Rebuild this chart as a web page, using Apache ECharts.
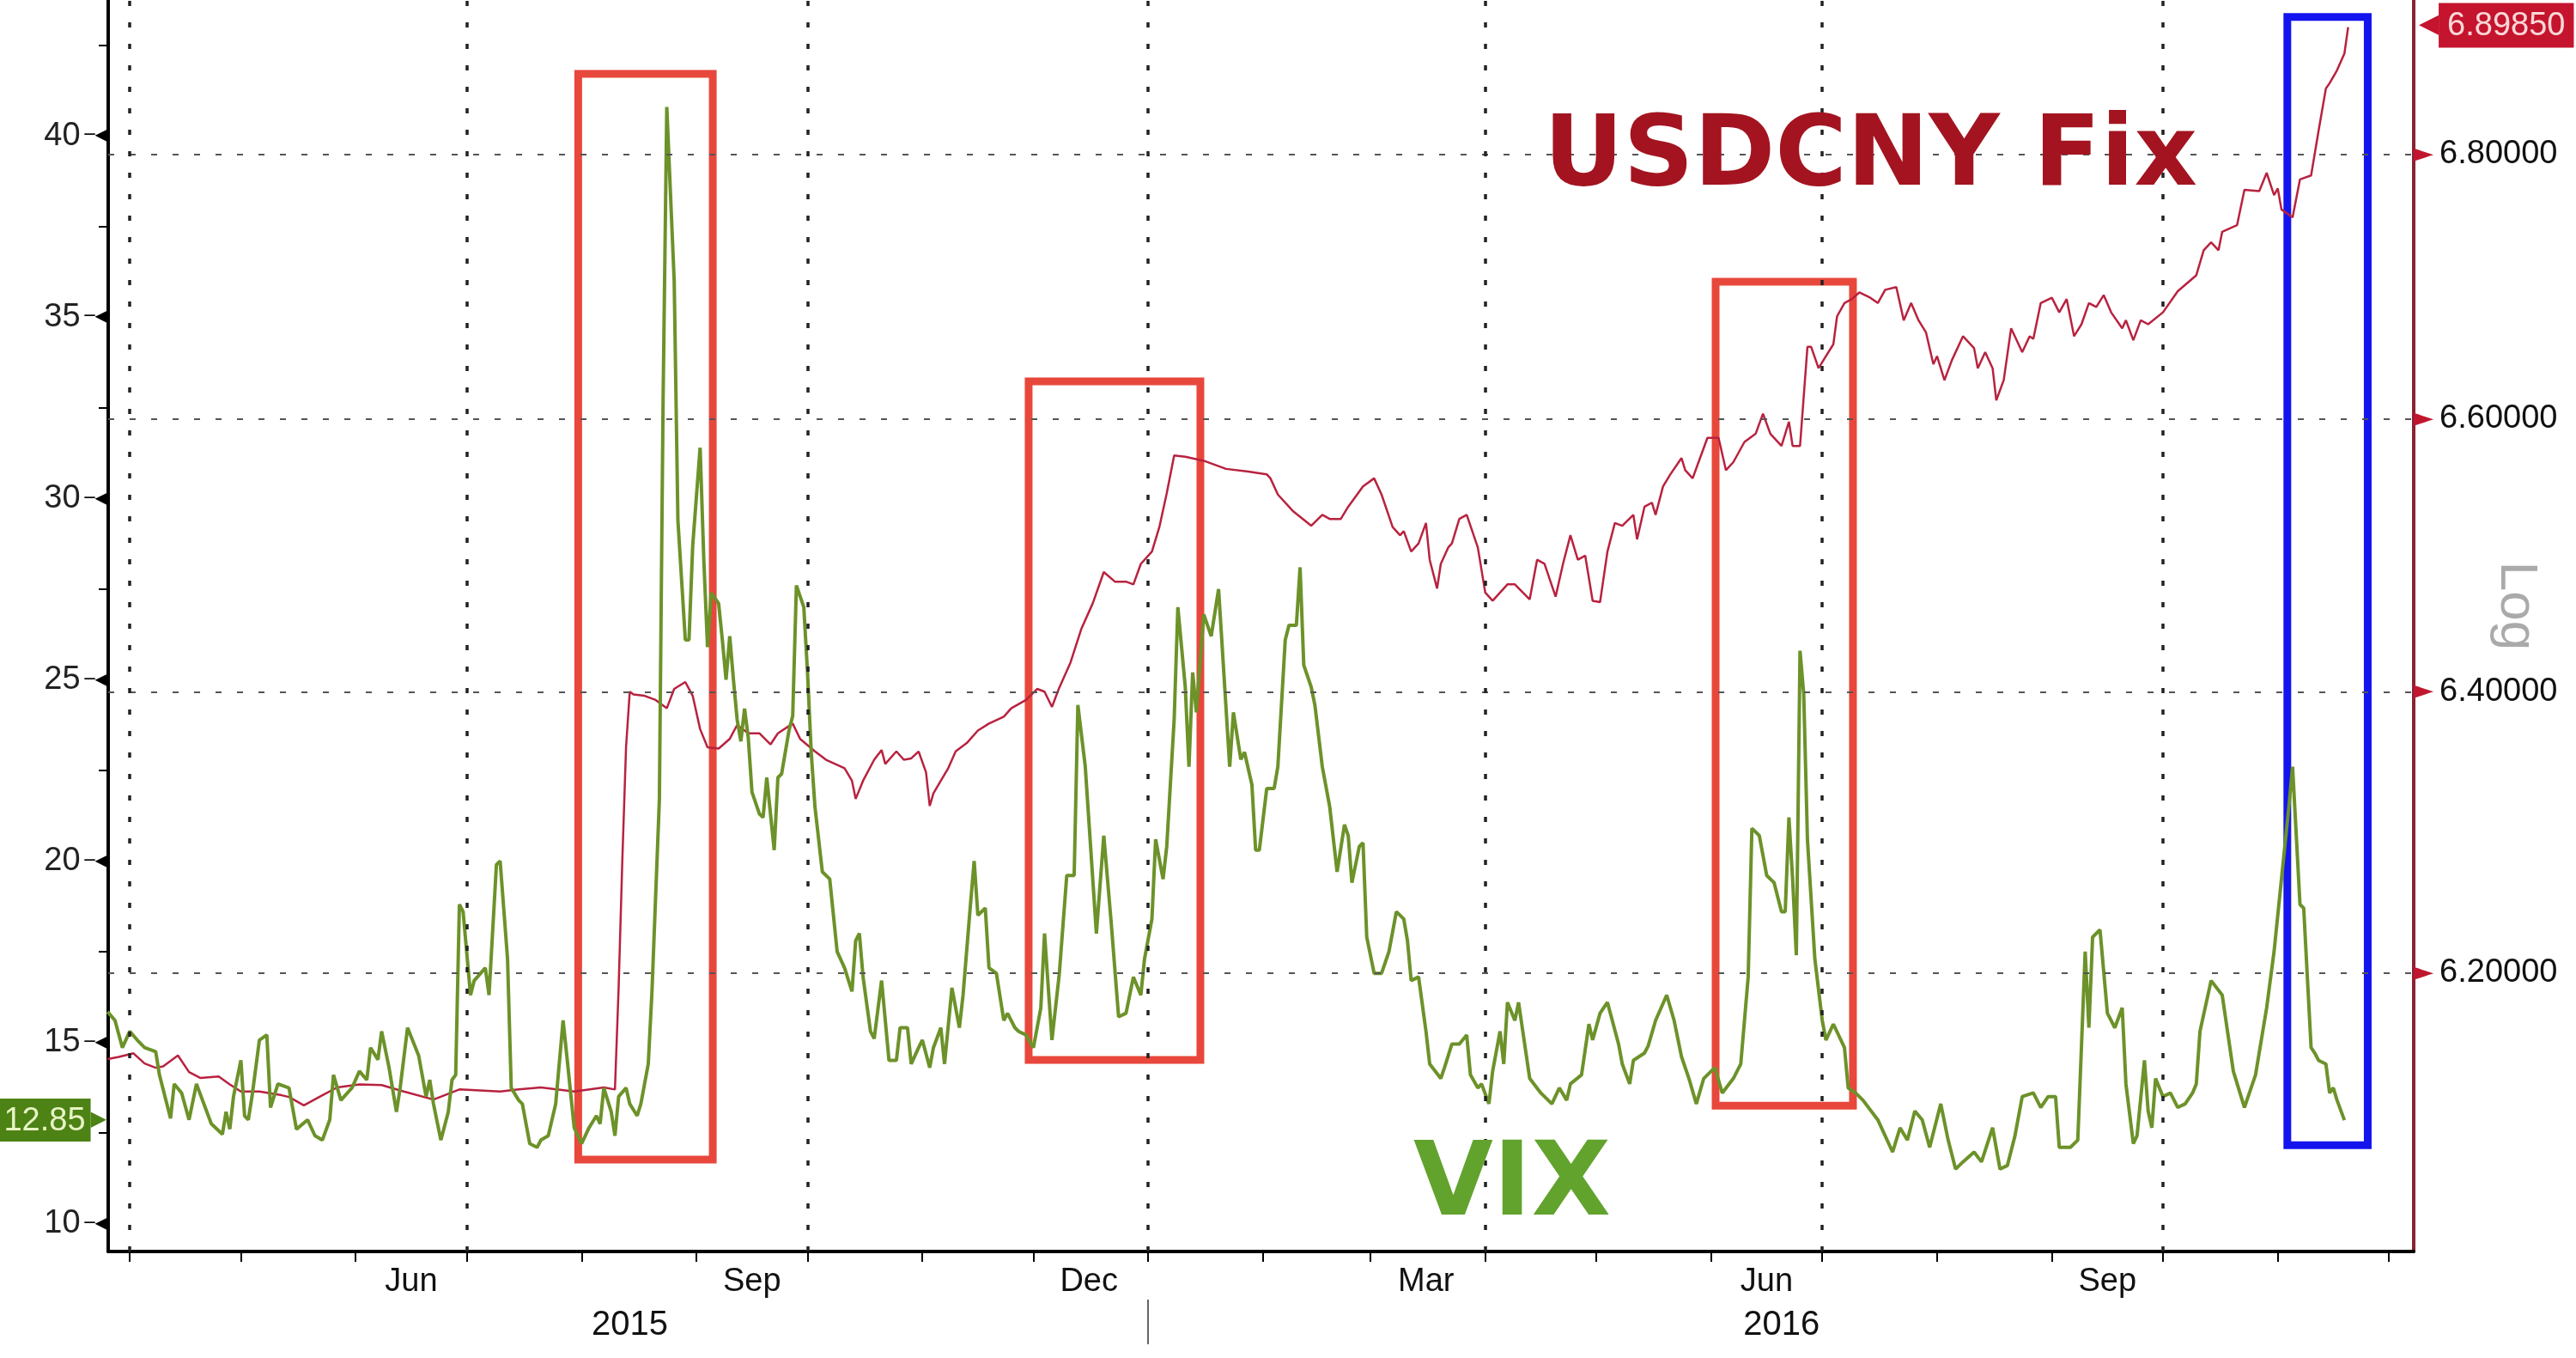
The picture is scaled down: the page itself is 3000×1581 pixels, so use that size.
<!DOCTYPE html>
<html><head><meta charset="utf-8">
<script src="https://cdn.jsdelivr.net/npm/echarts@6/dist/echarts.min.js"></script>
<style>html,body{margin:0;padding:0;background:#fff}#c{width:3000px;height:1581px}</style>
</head><body><div id="c"></div>
<script>
// ---------- data ----------
const vixDates = ['2015-03-26','2015-03-28','2015-03-30','2015-04-01','2015-04-03','2015-04-05','2015-04-08','2015-04-09','2015-04-12','2015-04-13','2015-04-15','2015-04-17','2015-04-19','2015-04-21','2015-04-23','2015-04-26','2015-04-27','2015-04-28','2015-04-29','2015-05-01','2015-05-02','2015-05-03','2015-05-04','2015-05-06','2015-05-08','2015-05-09','2015-05-11','2015-05-14','2015-05-16','2015-05-19','2015-05-21','2015-05-23','2015-05-25','2015-05-26','2015-05-28','2015-05-31','2015-06-02','2015-06-04','2015-06-05','2015-06-07','2015-06-08','2015-06-10','2015-06-12','2015-06-13','2015-06-15','2015-06-18','2015-06-20','2015-06-21','2015-06-22','2015-06-24','2015-06-26','2015-06-27','2015-06-28','2015-06-29','2015-06-30','2015-07-02','2015-07-03','2015-07-06','2015-07-07','2015-07-09','2015-07-10','2015-07-12','2015-07-13','2015-07-15','2015-07-16','2015-07-18','2015-07-20','2015-07-21','2015-07-23','2015-07-25','2015-07-27','2015-07-28','2015-07-30','2015-08-01','2015-08-03','2015-08-05','2015-08-06','2015-08-07','2015-08-09','2015-08-10','2015-08-11','2015-08-13','2015-08-14','2015-08-16','2015-08-17','2015-08-19','2015-08-20','2015-08-22','2015-08-23','2015-08-24','2015-08-26','2015-08-27','2015-08-29','2015-08-30','2015-08-31','2015-09-02','2015-09-03','2015-09-04','2015-09-05','2015-09-07','2015-09-08','2015-09-09','2015-09-10','2015-09-11','2015-09-12','2015-09-13','2015-09-14','2015-09-15','2015-09-16','2015-09-18','2015-09-19','2015-09-20','2015-09-22','2015-09-23','2015-09-24','2015-09-26','2015-09-27','2015-09-28','2015-09-30','2015-10-01','2015-10-02','2015-10-03','2015-10-05','2015-10-07','2015-10-09','2015-10-11','2015-10-13','2015-10-14','2015-10-15','2015-10-16','2015-10-18','2015-10-19','2015-10-21','2015-10-23','2015-10-25','2015-10-26','2015-10-28','2015-10-29','2015-10-31','2015-11-01','2015-11-03','2015-11-04','2015-11-06','2015-11-07','2015-11-09','2015-11-11','2015-11-12','2015-11-14','2015-11-15','2015-11-16','2015-11-18','2015-11-19','2015-11-21','2015-11-23','2015-11-24','2015-11-26','2015-11-27','2015-11-29','2015-12-01','2015-12-03','2015-12-04','2015-12-06','2015-12-08','2015-12-10','2015-12-12','2015-12-13','2015-12-15','2015-12-18','2015-12-20','2015-12-22','2015-12-24','2015-12-26','2015-12-28','2015-12-30','2015-12-31','2016-01-02','2016-01-03','2016-01-05','2016-01-06','2016-01-08','2016-01-09','2016-01-11','2016-01-12','2016-01-13','2016-01-14','2016-01-16','2016-01-18','2016-01-20','2016-01-23','2016-01-24','2016-01-26','2016-01-27','2016-01-29','2016-01-30','2016-01-31','2016-02-02','2016-02-04','2016-02-05','2016-02-07','2016-02-08','2016-02-10','2016-02-11','2016-02-12','2016-02-14','2016-02-15','2016-02-17','2016-02-19','2016-02-21','2016-02-23','2016-02-24','2016-02-25','2016-02-27','2016-02-28','2016-02-29','2016-03-02','2016-03-04','2016-03-06','2016-03-08','2016-03-10','2016-03-11','2016-03-12','2016-03-14','2016-03-16','2016-03-17','2016-03-20','2016-03-21','2016-03-23','2016-03-25','2016-03-27','2016-03-28','2016-03-30','2016-03-31','2016-04-02','2016-04-03','2016-04-05','2016-04-06','2016-04-07','2016-04-09','2016-04-10','2016-04-13','2016-04-16','2016-04-19','2016-04-21','2016-04-23','2016-04-24','2016-04-27','2016-04-29','2016-04-30','2016-05-02','2016-05-04','2016-05-07','2016-05-08','2016-05-10','2016-05-11','2016-05-14','2016-05-15','2016-05-17','2016-05-20','2016-05-22','2016-05-24','2016-05-26','2016-05-28','2016-05-30','2016-06-02','2016-06-04','2016-06-07','2016-06-09','2016-06-11','2016-06-12','2016-06-14','2016-06-16','2016-06-18','2016-06-20','2016-06-21','2016-06-22','2016-06-23','2016-06-24','2016-06-25','2016-06-26','2016-06-27','2016-06-29','2016-07-01','2016-07-02','2016-07-04','2016-07-07','2016-07-08','2016-07-10','2016-07-12','2016-07-16','2016-07-20','2016-07-22','2016-07-24','2016-07-26','2016-07-28','2016-07-30','2016-08-02','2016-08-04','2016-08-06','2016-08-08','2016-08-11','2016-08-13','2016-08-16','2016-08-18','2016-08-20','2016-08-22','2016-08-24','2016-08-27','2016-08-29','2016-08-31','2016-09-02','2016-09-03','2016-09-06','2016-09-08','2016-09-10','2016-09-11','2016-09-12','2016-09-14','2016-09-16','2016-09-18','2016-09-20','2016-09-21','2016-09-23','2016-09-24','2016-09-26','2016-09-27','2016-09-28','2016-09-29','2016-10-01','2016-10-03','2016-10-05','2016-10-07','2016-10-09','2016-10-10','2016-10-11','2016-10-14','2016-10-17','2016-10-20','2016-10-23','2016-10-26','2016-10-29','2016-10-31','2016-11-02','2016-11-04','2016-11-05','2016-11-07','2016-11-08','2016-11-10','2016-11-11','2016-11-12','2016-11-14','2016-11-15','2016-11-16','2016-11-17','2016-11-19'];
const vixValues = [15.84,15.6,14.85,15.3,15.06,14.85,14.74,14.1,12.9,13.85,13.6,12.86,13.85,13.3,12.75,12.46,13.08,12.6,13.5,14.5,12.97,12.86,13.5,15.06,15.2,13.2,13.85,13.74,12.6,12.86,12.42,12.3,12.86,14.1,13.4,13.74,14.2,13.96,14.85,14.52,15.3,14.3,13.08,13.74,15.4,14.63,13.5,13.96,13.3,12.3,13.08,13.96,14.1,18.8,18.6,16.3,16.7,17.05,16.3,19.9,20.0,17.3,13.74,13.4,13.3,12.2,12.1,12.3,12.42,13.3,15.6,14.63,12.64,12.2,12.64,12.97,12.75,13.74,13.08,12.42,13.5,13.74,13.3,12.97,13.3,14.4,16.4,21.7,32.7,40.8,36.0,29.4,26.1,26.1,28.7,31.4,28.3,25.9,27.4,27.1,26.1,25.0,26.2,25.0,23.9,23.3,24.2,23.4,21.9,21.3,21.2,22.3,20.3,22.3,22.4,23.6,24.0,27.6,27.0,25.2,23.0,21.5,19.7,19.5,17.5,17.05,16.4,17.8,18.0,16.8,15.3,15.1,16.7,14.5,14.5,15.4,15.4,14.4,14.85,15.06,14.3,14.85,15.4,14.4,16.5,15.4,16.3,18.8,20.0,18.5,18.7,17.05,16.9,15.6,15.8,15.4,15.3,15.2,14.85,15.95,18.0,15.06,16.9,19.6,19.6,24.3,22.6,18.0,20.7,18.3,15.7,15.8,16.8,16.3,17.3,18.4,20.6,19.5,20.4,23.9,27.0,24.8,22.6,25.2,24.1,26.8,26.2,27.5,22.6,24.1,22.8,23.0,22.1,20.3,20.3,22.0,22.0,22.6,26.1,26.5,26.5,28.1,25.4,24.8,24.3,22.6,21.5,19.7,21.0,20.7,19.4,20.4,20.5,17.9,16.9,16.9,17.5,18.6,18.4,17.8,16.7,16.8,15.3,14.4,14.0,14.3,14.95,14.95,15.2,14.1,13.74,13.85,13.3,14.2,15.3,14.4,16.1,15.6,16.1,14.0,13.6,13.3,13.74,13.4,13.85,14.1,15.5,15.06,15.8,16.1,14.95,14.4,13.85,14.5,14.7,14.9,15.6,16.3,15.6,14.6,14.0,13.3,14.0,14.3,13.6,14.0,14.4,16.8,20.9,20.7,19.6,19.4,18.6,18.6,21.2,19.5,17.4,25.8,24.6,20.6,17.3,15.6,15.06,15.5,14.85,13.74,13.6,13.4,12.86,11.97,12.64,12.3,13.1,12.86,12.1,13.3,12.3,11.5,11.7,11.97,11.7,12.64,11.5,11.6,12.4,13.5,13.6,13.2,13.5,13.5,12.1,12.1,12.3,17.5,15.4,17.9,18.1,15.8,15.4,15.95,13.85,12.2,12.42,14.5,13.1,12.64,14.0,13.5,13.6,13.2,13.3,13.6,13.85,15.3,16.7,16.3,14.2,13.2,14.1,15.95,17.5,19.5,21.5,22.6,18.8,18.7,14.85,14.7,14.5,14.4,13.6,13.74,13.4,12.85];

const fixDates = ['2015-03-26','2015-03-29','2015-04-02','2015-04-05','2015-04-08','2015-04-10','2015-04-14','2015-04-17','2015-04-20','2015-04-25','2015-04-28','2015-05-01','2015-05-06','2015-05-12','2015-05-14','2015-05-18','2015-05-23','2015-05-27','2015-06-02','2015-06-08','2015-06-14','2015-06-22','2015-06-29','2015-07-10','2015-07-15','2015-07-21','2015-07-30','2015-08-07','2015-08-10','2015-08-11','2015-08-12','2015-08-13','2015-08-14','2015-08-15','2015-08-18','2015-08-21','2015-08-24','2015-08-26','2015-08-29','2015-08-31','2015-09-02','2015-09-04','2015-09-07','2015-09-10','2015-09-12','2015-09-15','2015-09-18','2015-09-21','2015-09-23','2015-09-27','2015-09-29','2015-10-03','2015-10-06','2015-10-11','2015-10-13','2015-10-14','2015-10-16','2015-10-19','2015-10-21','2015-10-22','2015-10-25','2015-10-27','2015-10-29','2015-10-31','2015-11-02','2015-11-03','2015-11-04','2015-11-06','2015-11-08','2015-11-10','2015-11-13','2015-11-16','2015-11-19','2015-11-23','2015-11-25','2015-11-29','2015-12-02','2015-12-04','2015-12-06','2015-12-08','2015-12-11','2015-12-14','2015-12-17','2015-12-20','2015-12-23','2015-12-26','2015-12-28','2015-12-30','2016-01-02','2016-01-04','2016-01-06','2016-01-08','2016-01-11','2016-01-16','2016-01-22','2016-01-28','2016-02-02','2016-02-03','2016-02-05','2016-02-09','2016-02-14','2016-02-17','2016-02-19','2016-02-22','2016-02-24','2016-02-28','2016-03-02','2016-03-04','2016-03-07','2016-03-09','2016-03-10','2016-03-12','2016-03-14','2016-03-16','2016-03-17','2016-03-19','2016-03-20','2016-03-22','2016-03-23','2016-03-25','2016-03-27','2016-03-30','2016-04-01','2016-04-03','2016-04-07','2016-04-09','2016-04-13','2016-04-15','2016-04-17','2016-04-20','2016-04-22','2016-04-24','2016-04-26','2016-04-28','2016-04-30','2016-05-02','2016-05-04','2016-05-06','2016-05-08','2016-05-11','2016-05-12','2016-05-14','2016-05-16','2016-05-17','2016-05-19','2016-05-21','2016-05-24','2016-05-25','2016-05-27','2016-05-29','2016-05-31','2016-06-03','2016-06-05','2016-06-07','2016-06-10','2016-06-13','2016-06-15','2016-06-17','2016-06-20','2016-06-22','2016-06-23','2016-06-25','2016-06-27','2016-06-28','2016-06-30','2016-07-02','2016-07-04','2016-07-05','2016-07-07','2016-07-09','2016-07-11','2016-07-14','2016-07-16','2016-07-18','2016-07-21','2016-07-23','2016-07-25','2016-07-27','2016-07-29','2016-07-31','2016-08-01','2016-08-03','2016-08-05','2016-08-08','2016-08-11','2016-08-12','2016-08-14','2016-08-16','2016-08-17','2016-08-19','2016-08-21','2016-08-24','2016-08-26','2016-08-27','2016-08-29','2016-09-01','2016-09-03','2016-09-05','2016-09-07','2016-09-09','2016-09-11','2016-09-13','2016-09-15','2016-09-17','2016-09-20','2016-09-21','2016-09-23','2016-09-25','2016-09-27','2016-10-01','2016-10-05','2016-10-10','2016-10-12','2016-10-14','2016-10-16','2016-10-17','2016-10-21','2016-10-23','2016-10-27','2016-10-29','2016-10-31','2016-11-01','2016-11-02','2016-11-05','2016-11-07','2016-11-10','2016-11-12','2016-11-14','2016-11-15','2016-11-17','2016-11-19','2016-11-20'];
const fixValues = [6.140,6.1415,6.144,6.137,6.134,6.135,6.1425,6.131,6.127,6.128,6.1225,6.1176,6.1176,6.115,6.1138,6.108,6.115,6.1204,6.1225,6.122,6.1176,6.112,6.119,6.1176,6.119,6.1204,6.1176,6.1204,6.119,6.19,6.28,6.36,6.400,6.398,6.397,6.394,6.388,6.402,6.407,6.397,6.373,6.360,6.359,6.366,6.376,6.370,6.370,6.362,6.370,6.377,6.366,6.357,6.351,6.345,6.336,6.323,6.336,6.351,6.358,6.348,6.357,6.351,6.352,6.357,6.342,6.318,6.327,6.336,6.345,6.357,6.363,6.372,6.377,6.382,6.388,6.394,6.402,6.400,6.389,6.403,6.421,6.446,6.464,6.487,6.480,6.480,6.478,6.493,6.502,6.520,6.545,6.573,6.572,6.569,6.563,6.561,6.559,6.556,6.544,6.532,6.521,6.529,6.526,6.526,6.535,6.550,6.556,6.544,6.520,6.514,6.517,6.502,6.508,6.523,6.496,6.475,6.493,6.505,6.508,6.526,6.529,6.505,6.472,6.466,6.478,6.478,6.467,6.496,6.493,6.469,6.493,6.514,6.496,6.499,6.466,6.465,6.502,6.523,6.521,6.529,6.511,6.535,6.538,6.529,6.550,6.559,6.571,6.562,6.556,6.571,6.586,6.586,6.562,6.568,6.583,6.589,6.604,6.589,6.580,6.598,6.580,6.580,6.654,6.654,6.638,6.647,6.656,6.677,6.687,6.690,6.695,6.691,6.687,6.697,6.699,6.674,6.687,6.674,6.665,6.641,6.647,6.629,6.644,6.662,6.653,6.638,6.650,6.638,6.614,6.629,6.668,6.650,6.662,6.660,6.687,6.691,6.680,6.690,6.662,6.671,6.687,6.684,6.693,6.680,6.668,6.674,6.659,6.674,6.671,6.680,6.696,6.708,6.727,6.733,6.727,6.741,6.746,6.773,6.772,6.786,6.769,6.774,6.758,6.752,6.781,6.784,6.818,6.851,6.855,6.865,6.878,6.8985];

// axis ranges and tick / label values
const xRange = ['2015-03-26T04', '2016-12-07T17'];
const vixRange = [9.227, 43.75];
const fixRange = [6.0081, 6.9197];
const vixTickLabels = [10, 15, 20, 25, 30, 35, 40];
const vixMinorTicks = [10, 12.5, 15, 17.5, 20, 22.5, 25, 27.5, 30, 32.5, 35, 37.5, 40, 42.5];
const fixTickLabels = [6.2, 6.4, 6.6, 6.8];
const monthTicks = ['2015-04-01','2015-05-01','2015-06-01','2015-07-01','2015-08-01','2015-09-01','2015-10-01','2015-11-01','2015-12-01','2016-01-01','2016-02-01','2016-03-01','2016-04-01','2016-05-01','2016-06-01','2016-07-01','2016-08-01','2016-09-01','2016-10-01','2016-11-01','2016-12-01'];
const monthLabelDates = ['2015-06-16','2015-09-16','2015-12-16','2016-03-16','2016-06-16','2016-09-16'];
const yearLabelDates = ['2015-08-14','2016-06-20'];
const yearBreaks = ['2016-01-01'];
const quarterLines = ['2015-04-01','2015-07-01','2015-10-01','2016-01-01','2016-04-01','2016-07-01','2016-10-01'];
// highlight boxes (dates on x, VIX values on y)
const boxStart = ['2015-07-31T02','2015-11-29T17','2016-06-02T05','2016-11-03T14'];
const boxEnd   = ['2015-09-05T10','2016-01-15T02','2016-07-09T07','2016-11-25T07'];
const boxTop   = [41.71, 33.23, 35.98, 43.28];
const boxBottom= [11.76, 14.51, 13.25, 12.16];
const boxColors = ['#e8473b','#e8473b','#e8473b','#1414ee'];
const monthNames = ['Jan','Feb','Mar','Apr','May','Jun','Jul','Aug','Sep','Oct','Nov','Dec'];

// ---------- helpers ----------
function t(s) {
  const [d, h] = s.split('T');
  const [y, m, dd] = d.split('-').map(Number);
  return Date.UTC(y, m - 1, dd, h ? Number(h) : 0);
}
const vixLast = vixValues[vixValues.length - 1];
const fixLast = fixValues[fixValues.length - 1];

const chart = echarts.init(document.getElementById('c'), null, {renderer: 'canvas'});
const FONT = 'Liberation Sans';
const hidden = {color: 'rgba(0,0,0,0)', width: 1, type: 'solid'};
chart.setOption({
  animation: false,
  backgroundColor: '#ffffff',
  textStyle: {fontFamily: FONT},
  grid: {left: 126, right: 189, top: 0, bottom: 124, containLabel: false, outerBoundsMode: 'none'},
  xAxis: [{
    type: 'value', min: t(xRange[0]), max: t(xRange[1]), position: 'bottom', scale: true,
    axisLine: {show: true, onZero: false, lineStyle: {color: '#000', width: 4}},
    axisTick: {show: true, customValues: monthTicks.map(t), length: 12, lineStyle: {color: '#000', width: 2}},
    axisLabel: {customValues: monthLabelDates.map(t), margin: 17, fontSize: 38, color: '#111', fontFamily: FONT,
      formatter: v => monthNames[new Date(v).getUTCMonth()]},
    splitLine: {show: false}
  }, {
    type: 'value', min: t(xRange[0]), max: t(xRange[1]), position: 'bottom', offset: 56, scale: true,
    axisLine: {show: false, onZero: false},
    axisTick: {show: true, customValues: yearBreaks.map(t), length: 52, lineStyle: {color: '#666', width: 2}},
    axisLabel: {customValues: yearLabelDates.map(t), margin: 10, fontSize: 40, color: '#111', fontFamily: FONT,
      formatter: v => String(new Date(v).getUTCFullYear())},
    splitLine: {show: false}
  }],
  yAxis: [{
    type: 'value', position: 'left', min: vixRange[0], max: vixRange[1],
    axisLine: {show: true, onZero: false, lineStyle: {color: '#000', width: 4}},
    axisTick: {show: true, customValues: vixMinorTicks, length: 11, lineStyle: {color: '#000', width: 2}},
    axisLabel: {
      customValues: vixTickLabels, margin: 0,
      formatter: v => '{num|' + v + '}{tri|─◀}',
      rich: {
        num: {fontSize: 38, color: '#222', fontFamily: FONT, padding: [0, 5, 0, 0]},
        tri: {fontSize: 20, color: '#000', fontFamily: 'DejaVu Sans'}
      }
    },
    splitLine: {show: false}
  }, {
    type: 'log', logBase: 10, position: 'right', min: fixRange[0], max: fixRange[1],
    axisLine: {show: true, onZero: false, lineStyle: {color: '#8a2232', width: 4}},
    axisTick: {show: false},
    axisLabel: {
      customValues: fixTickLabels, margin: 0,
      formatter: v => '{tri|►}{num|' + v.toFixed(5) + '}',
      rich: {
        num: {fontSize: 38, color: '#111', fontFamily: FONT, padding: [0, 0, 0, 7]},
        tri: {fontSize: 30, color: '#c0172f', fontFamily: 'DejaVu Sans'}
      }
    },
    splitLine: {show: false},
    name: 'Log', nameLocation: 'middle', nameRotate: -90, nameGap: 88, nameMoveOverlap: false,
    nameTextStyle: {color: '#aaaaaa', fontSize: 62, fontFamily: FONT, padding: [0, 46, 0, 0]}
  }],
  series: [{
    name: 'USDCNY Fix', type: 'line', yAxisIndex: 1, xAxisIndex: 0, clip: false,
    data: fixDates.map((d, i) => [t(d), fixValues[i]]),
    showSymbol: false, symbol: 'none', z: 3,
    lineStyle: {color: '#b8223f', width: 2.5},
    markLine: {
      silent: true, symbol: ['none', 'none'], label: {show: false}, animation: false,
      lineStyle: {color: '#555', width: 2, type: [7, 18]},
      data: fixTickLabels.map(v => ({yAxis: v})).concat([{
        yAxis: fixLast, lineStyle: hidden,
        label: {show: true, position: 'end', distance: 6,
          formatter: '{arrow|◀}{tag|' + fixLast.toFixed(5) + '}',
          rich: {
            arrow: {fontSize: 30, color: '#c4142e', fontFamily: 'DejaVu Sans'},
            tag: {fontSize: 38, color: '#fcd8d8', fontFamily: FONT, backgroundColor: '#c4142e', padding: [8, 10, 6, 10]}
          }}
      }])
    }
  }, {
    name: 'VIX', type: 'line', yAxisIndex: 0, xAxisIndex: 0, clip: false,
    data: vixDates.map((d, i) => [t(d), vixValues[i]]),
    showSymbol: false, symbol: 'none', z: 4,
    lineStyle: {color: '#6c9229', width: 4},
    markLine: {
      silent: true, symbol: ['none', 'none'], label: {show: false}, animation: false,
      lineStyle: {color: '#222', width: 3.5, type: [6, 19]},
      data: quarterLines.map(d => ({xAxis: t(d)})).concat([{
        yAxis: vixLast, lineStyle: hidden,
        label: {show: true, position: 'start', distance: 2,
          formatter: '{tag|' + vixLast.toFixed(2) + '}{arrow|▶}',
          rich: {
            arrow: {fontSize: 24, color: '#4d8215', fontFamily: 'DejaVu Sans'},
            tag: {fontSize: 38, color: '#e8f4c4', fontFamily: FONT, backgroundColor: '#4d8215', padding: [7, 6, 5, 6]}
          }}
      }])
    },
    markArea: {
      silent: true, label: {show: false},
      data: boxStart.map((s, i) => [
        {xAxis: t(s), yAxis: boxTop[i], itemStyle: {color: 'rgba(0,0,0,0)', borderColor: boxColors[i], borderWidth: 9}},
        {xAxis: t(boxEnd[i]), yAxis: boxBottom[i]}
      ])
    }
  }],
  graphic: [
    {type: 'text', x: 1798, y: 185, z: 10, style: {text: 'USDCNY Fix', font: 'bold 114px "DejaVu Sans"', fill: '#a31420', align: 'left', verticalAlign: 'middle'}},
    {type: 'text', x: 1646, y: 1383, z: 10, style: {text: 'VIX', font: 'bold 120px "DejaVu Sans"', fill: '#62a32e', align: 'left', verticalAlign: 'middle'}}
  ]
});
</script>
</body></html>
